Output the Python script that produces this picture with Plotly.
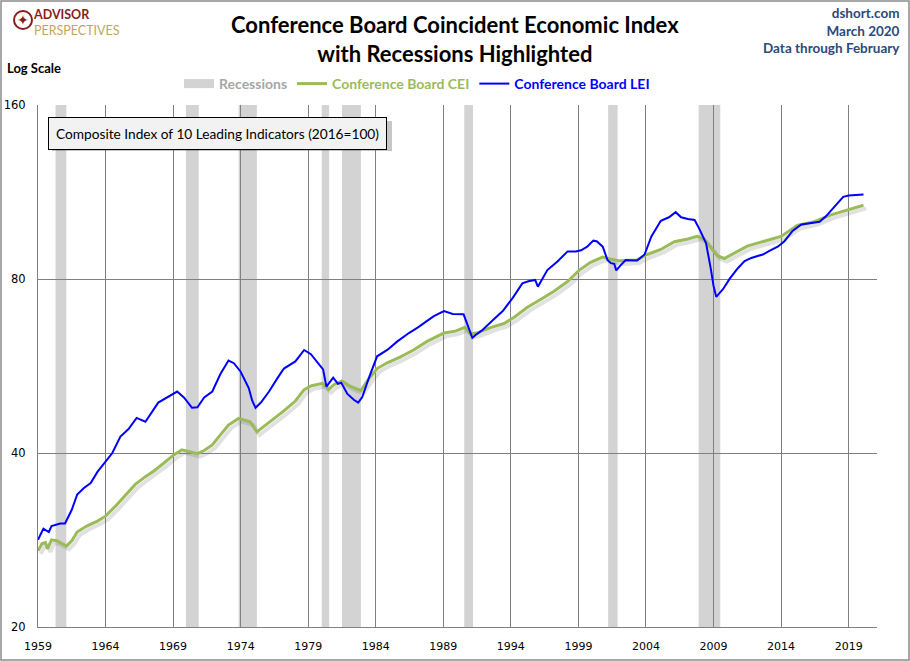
import numpy as np
import plotly.graph_objects as go

# Conference Board indexes (2016=100), decimal years
lei_year = [
    1959.0, 1959.4, 1959.8, 1960.0, 1960.65, 1961.0, 1961.5, 1961.9, 1962.4, 1962.9,
    1963.4, 1964.0, 1964.5, 1965.1, 1965.7, 1966.3, 1966.95, 1967.9, 1968.55, 1969.3,
    1969.8, 1970.4, 1970.8, 1971.3, 1971.9, 1972.5, 1973.1, 1973.5, 1974.0, 1974.6,
    1974.85, 1975.1, 1975.5, 1976.1, 1976.7, 1977.2, 1978.05, 1978.7, 1979.2, 1979.7,
    1980.1, 1980.35, 1980.85, 1981.2, 1981.45, 1981.9, 1982.4, 1982.7, 1983.0, 1983.5,
    1984.1, 1984.85, 1985.6, 1986.45, 1987.1, 1987.8, 1988.3, 1989.05, 1989.7, 1990.5,
    1990.8, 1991.15, 1991.5, 1991.9, 1992.6, 1993.4, 1994.1, 1994.85, 1995.3, 1995.8,
    1996.0, 1996.7, 1997.45, 1998.2, 1998.8, 1999.2, 1999.65, 2000.1, 2000.35, 2000.8,
    2001.15, 2001.4, 2001.65, 2001.8, 2002.1, 2002.5, 2002.85, 2003.35, 2003.9, 2004.4,
    2005.1, 2005.7, 2006.2, 2006.6, 2007.1, 2007.6, 2007.95, 2008.45, 2008.8, 2009.0,
    2009.2, 2009.7, 2010.2, 2010.8, 2011.3, 2011.8, 2012.2, 2012.65, 2013.1, 2013.75,
    2014.25, 2014.85, 2015.5, 2016.2, 2016.85, 2017.3, 2017.95, 2018.6, 2019.0, 2019.6,
    2020.1,
]
lei_value = [
    28.3, 29.6, 29.2, 29.9, 30.2, 30.2, 31.9, 33.9, 34.8, 35.5,
    37.1, 38.6, 40.0, 42.7, 44.0, 46.0, 45.3, 48.9, 49.9, 51.1,
    49.9, 47.9, 48.0, 49.9, 51.1, 54.8, 57.8, 57.2, 55.3, 51.8,
    49.3, 47.9, 48.9, 51.1, 53.8, 56.0, 57.6, 60.3, 59.3, 57.4,
    55.8, 52.1, 54.0, 52.7, 52.9, 50.6, 49.4, 48.9, 50.0, 54.0,
    58.8, 60.3, 62.4, 64.5, 65.9, 67.7, 69.0, 70.4, 69.6, 69.5,
    66.3, 63.3, 64.3, 65.3, 67.7, 70.4, 74.0, 78.6, 79.3, 79.7,
    77.6, 82.9, 85.8, 89.3, 89.3, 89.7, 91.0, 93.2, 93.0, 91.0,
    86.3, 85.2, 85.0, 82.8, 84.4, 86.3, 86.2, 86.1, 88.2, 94.8,
    100.9, 102.3, 104.4, 102.3, 101.6, 101.2, 97.7, 92.2, 83.3, 77.9,
    74.5, 76.8, 80.1, 83.5, 85.9, 87.0, 87.6, 88.2, 89.4, 91.0,
    93.0, 96.9, 99.4, 100.0, 100.5, 102.6, 106.8, 111.0, 111.6, 111.8,
    112.0,
]

cei_year = [
    1959.0, 1959.3, 1959.55, 1959.7, 1960.0, 1960.4, 1961.1, 1961.5, 1961.9, 1962.6,
    1963.4, 1964.0, 1964.7, 1965.5, 1966.2, 1966.95, 1967.55, 1968.3, 1969.05, 1969.65,
    1970.3, 1970.8, 1971.3, 1971.9, 1972.5, 1973.1, 1973.85, 1974.7, 1975.2, 1975.7,
    1976.45, 1977.2, 1978.05, 1978.7, 1979.25, 1980.05, 1980.5, 1980.9, 1981.5, 1982.1,
    1982.9, 1983.4, 1984.1, 1984.85, 1985.8, 1986.8, 1987.8, 1989.05, 1989.9, 1990.6,
    1991.0, 1991.5, 1992.5, 1993.5, 1994.25, 1995.2, 1996.2, 1997.2, 1998.2, 1999.05,
    1999.9, 2000.8, 2001.4, 2002.1, 2003.3, 2004.1, 2005.1, 2006.1, 2007.1, 2007.8,
    2008.3, 2008.8, 2009.3, 2009.8, 2010.5, 2011.5, 2012.75, 2014.0, 2015.2, 2016.45,
    2017.7, 2018.9, 2020.1,
]
cei_value = [
    27.1, 27.9, 28.0, 27.3, 28.3, 28.2, 27.6, 28.2, 29.2, 29.9,
    30.5, 31.1, 32.3, 33.9, 35.3, 36.4, 37.2, 38.4, 39.7, 40.5,
    40.2, 39.9, 40.4, 41.3, 43.0, 44.7, 45.9, 45.3, 43.5, 44.4,
    45.9, 47.3, 49.2, 51.5, 52.3, 52.8, 51.5, 52.5, 53.3, 52.2,
    51.3, 53.4, 56.0, 57.3, 58.6, 60.3, 62.4, 64.5, 65.0, 66.0,
    64.3, 64.5, 65.9, 67.0, 68.7, 71.4, 73.7, 76.2, 79.2, 82.8,
    85.5, 87.3, 86.6, 86.0, 86.3, 88.2, 90.0, 92.8, 93.8, 94.8,
    93.8, 90.7, 87.7, 86.8, 88.6, 91.2, 93.0, 94.8, 99.0, 100.5,
    103.3, 105.3, 107.3,
]

# NBER recessions (decimal years)
rec_start = [1960.3, 1969.95, 1973.85, 1980.0, 1981.5, 1990.55, 2001.2, 2007.9]
rec_end = [1961.1, 1970.9, 1975.2, 1980.55, 1982.9, 1991.2, 2001.9, 2009.5]

x_ticks = list(range(1959, 2020, 5))
y_ticks = [20, 40, 80, 160]

W, H = 910, 661
ML, MR, MT, MB = 38, 33, 105, 34
PW, PH = W - ML - MR, H - MT - MB


def px(x):
    return (x - ML) / PW


def py(y):
    return (H - MB - y) / PH


BODY = "Lato, 'Open Sans', sans-serif"
GREEN = "#9bbb59"
BLUE = "#0000ff"
NAVY = "#2b4a7c"
RED = "#8b1c1c"
GOLD = "#c4a45c"

fig = go.Figure()

fig.add_trace(go.Scatter(
    x=[None], y=[None], mode="lines", name="<b><span style='color:#a6a6a6'>Recessions</span></b>",
    line=dict(color="#d3d3d3", width=9),
))
# soft drop shadow under the CEI line
fig.add_trace(go.Scatter(
    x=np.array(cei_year) + 0.2, y=np.array(cei_value) * 0.988, mode="lines",
    line=dict(color="rgba(90,90,90,0.18)", width=4), showlegend=False, hoverinfo="skip",
))
fig.add_trace(go.Scatter(
    x=cei_year, y=cei_value, mode="lines",
    name=f"<b><span style='color:{GREEN}'>Conference Board CEI</span></b>",
    line=dict(color=GREEN, width=3),
))
fig.add_trace(go.Scatter(
    x=lei_year, y=lei_value, mode="lines",
    name=f"<b><span style='color:{BLUE}'>Conference Board LEI</span></b>",
    line=dict(color=BLUE, width=2),
))

shapes = []
for s, e in zip(rec_start, rec_end):
    shapes.append(dict(type="rect", xref="x", yref="paper", x0=s, x1=e, y0=0, y1=1,
                       fillcolor="#d3d3d3", line=dict(width=0), layer="below"))
# annotation box shadow
shapes.append(dict(type="rect", xref="paper", yref="paper",
                   x0=px(52), x1=px(392), y0=py(151), y1=py(121),
                   fillcolor="rgba(0,0,0,0.22)", line=dict(width=0)))
# outer frame
shapes.append(dict(type="rect", xref="paper", yref="paper",
                   x0=px(1), x1=px(W - 1), y0=py(H - 1), y1=py(1),
                   line=dict(color="#8c8c8c", width=1.5)))
# logo mark
shapes.append(dict(type="circle", xref="paper", yref="paper",
                   x0=px(14), x1=px(32), y0=py(29), y1=py(11),
                   line=dict(color=RED, width=2)))

annotations = [
    dict(text="<b>Conference Board Coincident Economic Index<br>with Recessions Highlighted</b>",
         xref="paper", yref="paper", x=px(455), y=py(39), xanchor="center", yanchor="middle",
         showarrow=False, font=dict(family=BODY, size=22, color="black")),
    dict(text="<b>dshort.com<br>March 2020<br>Data through February</b>",
         xref="paper", yref="paper", x=px(902), y=py(3), xanchor="right", yanchor="top",
         align="right", showarrow=False, font=dict(family=BODY, size=13.5, color=NAVY)),
    dict(text="<b>Log Scale</b>", xref="paper", yref="paper", x=px(5), y=py(68),
         xanchor="left", yanchor="middle", showarrow=False,
         font=dict(family=BODY, size=13, color="black")),
    dict(text="Composite Index of 10 Leading Indicators (2016=100)",
         xref="paper", yref="paper", x=px(48), y=py(117), xanchor="left", yanchor="top",
         showarrow=False, bgcolor="#f2f2f2", bordercolor="black", borderwidth=1, borderpad=7,
         font=dict(family=BODY, size=13.7, color="black")),
    dict(text=f"<b><span style='color:{RED}'>ADVISOR</span></b><br>"
              f"<span style='color:{GOLD}'>PERSPECTIVES</span>",
         xref="paper", yref="paper", x=px(31), y=py(22), align="left",
         xanchor="left", yanchor="middle", showarrow=False,
         font=dict(family=BODY, size=12.5, color=GOLD)),
    dict(text="✦", xref="paper", yref="paper", x=px(23), y=py(20),
         xanchor="center", yanchor="middle", showarrow=False,
         font=dict(family="DejaVu Sans", size=14, color=RED)),
]

fig.update_layout(
    width=W, height=H,
    margin=dict(l=ML, r=MR, t=MT, b=MB),
    paper_bgcolor="white", plot_bgcolor="white",
    showlegend=True,
    legend=dict(orientation="h", x=px(417), xanchor="center", y=py(84), yanchor="middle",
                font=dict(family=BODY, size=14, color="#808080"), bgcolor="rgba(0,0,0,0)",
                itemwidth=30, traceorder="normal"),
    shapes=shapes,
    annotations=annotations,
    xaxis=dict(
        range=[1959, 2021.1], tickvals=x_ticks, ticktext=[str(t) for t in x_ticks],
        showgrid=True, gridcolor="#808080", gridwidth=1, zeroline=False,
        showline=True, linecolor="#808080", linewidth=1, ticks="",
        ticklabelstandoff=9, automargin=False,
        tickfont=dict(family="DejaVu Sans", size=11, color="black"),
    ),
    yaxis=dict(
        type="log", range=[np.log10(20), np.log10(160)], tickvals=y_ticks,
        ticktext=[str(t) for t in y_ticks],
        showgrid=True, gridcolor="#808080", gridwidth=1, zeroline=False,
        showline=True, linecolor="#808080", linewidth=1, ticks="",
        ticklabelstandoff=9, automargin=False,
        tickfont=dict(family="DejaVu Sans", size=11.5, color="black"),
    ),
)

# the page's default body margin would push the figure off the window
fig.write_html("out.html", config={"displayModeBar": False},
               post_script="document.body.style.margin='0';")
